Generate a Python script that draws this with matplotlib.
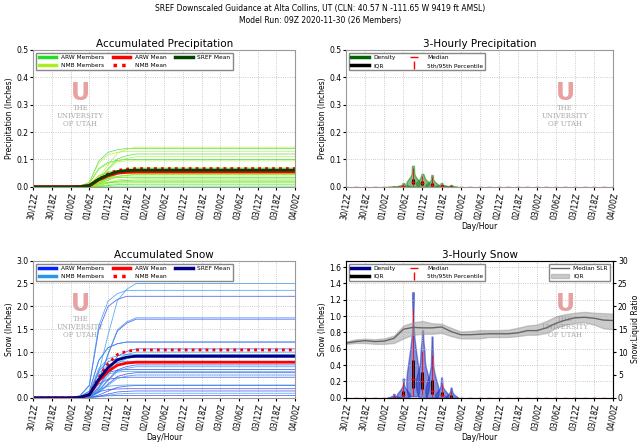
import numpy as np
import matplotlib
matplotlib.use("Agg")
import matplotlib.pyplot as plt

hours = list(range(0, 85, 3))
tick_hours = list(range(0, 85, 6))
tick_labels = ["30/12Z","30/18Z","01/00Z","01/06Z","01/12Z","01/18Z","02/00Z","02/06Z",
               "02/12Z","02/18Z","03/00Z","03/06Z","03/12Z","03/18Z","04/00Z"]

# cumulative fraction profiles
prof_early = [0,0,0,0,0,0.02,0.12,0.67,0.9,0.97,1,1,1,1,1,1,1,1,1,1,1,1,1,1,1,1,1,1,1]
prof_late  = [0,0,0,0,0,0,0.03,0.22,0.55,0.85,0.95,1,1,1,1,1,1,1,1,1,1,1,1,1,1,1,1,1,1]

precip_arw = [0.14,0.12,0.1,0.065,0.06,0.055,0.05,0.045,0.035,0.025,0.018,0.01,0.003]
precip_nmb = [0.145,0.13,0.11,0.095,0.07,0.062,0.058,0.05,0.045,0.04,0.03,0.02,0.015]
snow_arw = [2.22,1.72,1.22,1.07,0.88,0.72,0.62,0.55,0.45,0.27,0.2,0.15,0.05]
snow_nmb = [2.5,2.35,1.75,1.22,1.0,0.95,0.9,0.8,0.68,0.58,0.5,0.28,0.1]

slr_med = [12,12.3,12.5,12.3,12.4,13,15,15.4,15.3,15.3,15.5,14.5,13.8,13.8,13.9,14,14,14,14.2,14.7,14.7,15.3,16.3,17,17.5,17.6,17.4,17,16.9]
slr_lo  = [11.8,12,12,11.8,11.8,12,13,13.8,14,14,14.2,13.5,13,13,13,13.3,13.3,13.3,13.5,13.8,13.8,14.2,15.3,16,16.4,16.5,16,15.2,15]
slr_hi  = [12.3,12.8,12.9,12.8,13,13.6,15.8,16.5,16.8,16.3,16.2,15.3,14.5,14.6,14.8,14.8,14.8,14.9,15.3,15.8,16,16.8,17.8,18.3,18.6,18.8,18.6,18.5,18.4]

def members(totals, idx0):
    out = []
    for i, t in enumerate(totals):
        p = prof_early if (i + idx0) % 2 == 0 else prof_late
        out.append(np.array(p) * t)
    return out

fig = plt.figure(figsize=(6.4, 4.44), dpi=100)
fig.text(0.5, 0.99, "SREF Downscaled Guidance at Alta Collins, UT (CLN: 40.57 N -111.65 W 9419 ft AMSL)", ha="center", va="top", fontsize=5.5)
fig.text(0.5, 0.965, "Model Run: 09Z 2020-11-30 (26 Members)", ha="center", va="top", fontsize=5.5)

pos = {"tl":[0.052,0.579,0.409,0.309],"tr":[0.541,0.579,0.417,0.309],
       "bl":[0.052,0.104,0.409,0.309],"br":[0.541,0.104,0.417,0.309]}

def style(ax, title, ylabel, xlabel=False):
    ax.set_xlim(0, 84)
    ax.set_xticks(tick_hours)
    ax.set_xticklabels(tick_labels, rotation=80, fontsize=5.5)
    ax.tick_params(labelsize=5.5, length=2, pad=1.5)
    ax.set_title(title, fontsize=7.5, pad=2)
    ax.set_ylabel(ylabel, fontsize=5.5, labelpad=1.5)
    if xlabel:
        ax.set_xlabel("Day/Hour", fontsize=5.5, labelpad=1)
    ax.grid(True, color="#bbbbbb", linestyle=":", linewidth=0.6)
    for s in ax.spines.values():
        s.set_color("#999999")

def watermark(ax, x, y):
    ax.text(x, y, "U", transform=ax.transAxes, ha="center", va="bottom", fontsize=17, fontweight="bold", color="#e8a0a0", zorder=0)
    ax.text(x, y + 0.005, "THE\nUNIVERSITY\nOF UTAH", transform=ax.transAxes, ha="center", va="top", fontsize=5, color="#aaaaaa", family="serif", linespacing=1.0, zorder=0)

def leg(ax, ncol, loc="upper left"):
    ax.legend(loc=loc, ncol=ncol, fontsize=4.2, framealpha=1, handlelength=3, borderpad=0.4, columnspacing=1.5, edgecolor="#888888", fancybox=False)

# Accumulated precipitation
ax = fig.add_axes(pos["tl"])
pa = members(precip_arw, 0); pn = members(precip_nmb, 1)
for m in pa: ax.plot(hours, m, color="#22dd22", lw=0.5, alpha=0.8)
for m in pn: ax.plot(hours, m, color="#aaee22", lw=0.5, alpha=0.8)
ax.plot(hours, np.mean(pa, axis=0), color="red", lw=2.5)
ax.plot(hours, np.mean(pn, axis=0), color="red", lw=2, ls=(0,(1,1.5)))
ax.plot(hours, np.mean(pa + pn, axis=0), color="#004400", lw=2)
ax.plot([], [], color="#22dd22", lw=2.5, label="ARW Members")
ax.plot([], [], color="#aaee22", lw=2.5, label="NMB Members")
ax.plot([], [], color="red", lw=2.5, label="ARW Mean")
ax.plot([], [], color="red", lw=2.5, ls=(0,(1,1.5)), label="NMB Mean")
ax.plot([], [], color="#004400", lw=2.5, label="SREF Mean")
ax.set_ylim(0, 0.5)
style(ax, "Accumulated Precipitation", "Precipitation (Inches)")
leg(ax, 3)
watermark(ax, 0.18, 0.6)

# Accumulated snow
ax = fig.add_axes(pos["bl"])
sa = members(snow_arw, 0); sn = members(snow_nmb, 1)
for m in sa: ax.plot(hours, m, color="#3344ee", lw=0.6, alpha=0.8)
for m in sn: ax.plot(hours, m, color="#3399ee", lw=0.6, alpha=0.8)
ax.plot(hours, np.mean(sa, axis=0), color="red", lw=2)
ax.plot(hours, np.mean(sn, axis=0), color="red", lw=2, ls=(0,(1,1.5)))
ax.plot(hours, np.mean(sa + sn, axis=0), color="#000080", lw=2)
ax.plot([], [], color="#0022ff", lw=2.5, label="ARW Members")
ax.plot([], [], color="#2299ee", lw=2.5, label="NMB Members")
ax.plot([], [], color="red", lw=2.5, label="ARW Mean")
ax.plot([], [], color="red", lw=2.5, ls=(0,(1,1.5)), label="NMB Mean")
ax.plot([], [], color="#000080", lw=2.5, label="SREF Mean")
ax.set_ylim(0, 3.0)
style(ax, "Accumulated Snow", "Snow (Inches)", True)
leg(ax, 3)
watermark(ax, 0.18, 0.6)

def violins(ax, mem, color):
    arr = np.array(mem)
    inc = np.diff(np.hstack([np.zeros((arr.shape[0],1)), arr]), axis=1)
    for j, h in enumerate(hours):
        d = inc[:, j]
        if d.max() > 0:
            vp = ax.violinplot(d, positions=[h], widths=4.2, showextrema=False)
            for b in vp["bodies"]:
                b.set_facecolor(color); b.set_edgecolor(color); b.set_alpha(0.55)
            q1, q3 = np.percentile(d, [25, 75]); p5, p95 = np.percentile(d, [5, 95])
            ax.vlines(h, q1, q3, color="black", lw=2)
            ax.vlines(h, p5, p95, color="red", lw=0.6)
        ax.plot(h, np.median(d), marker="_", color="red", ms=3, mew=1)

# 3-hourly precip
ax = fig.add_axes(pos["tr"])
violins(ax, pa + pn, "#228822")
ax.set_ylim(0, 0.5)
style(ax, "3-Hourly Precipitation", "Precipitation (Inches)", True)
ax.plot([], [], color="#006600", lw=2.5, label="Density")
ax.plot([], [], color="black", lw=2.5, label="IQR")
ax.plot([], [], color="red", lw=0, marker="_", label="Median")
ax.plot([], [], color="red", lw=0, marker="|", label="5th/95th Percentile")
leg(ax, 2)
watermark(ax, 0.82, 0.6)

# 3-hourly snow
ax = fig.add_axes(pos["br"])
violins(ax, sa + sn, "#2233bb")
ax.set_ylim(0, 1.68)
ax.set_yticks(np.arange(0, 1.61, 0.2))
style(ax, "3-Hourly Snow", "Snow (Inches)", True)
ax.plot([], [], color="#000088", lw=2.5, label="Density")
ax.plot([], [], color="black", lw=2.5, label="IQR")
ax.plot([], [], color="red", lw=0, marker="_", label="Median")
ax.plot([], [], color="red", lw=0, marker="|", label="5th/95th Percentile")
leg(ax, 2)
watermark(ax, 0.82, 0.6)
ax2 = ax.twinx()
ln, = ax2.plot(hours, slr_med, color="#666666", lw=1, label="Median SLR")
fb = ax2.fill_between(hours, slr_lo, slr_hi, color="#999999", alpha=0.5, label="IQR")
ax2.set_ylim(0, 30)
ax2.set_ylabel("Snow:Liquid Ratio", fontsize=5.5, labelpad=2)
ax2.tick_params(labelsize=5.5, length=2, pad=1.5)
ax2.legend(handles=[ln, fb], loc="upper right", fontsize=4.2, framealpha=1, handlelength=3, edgecolor="#888888", fancybox=False)

fig.savefig("out.png", dpi=100)
